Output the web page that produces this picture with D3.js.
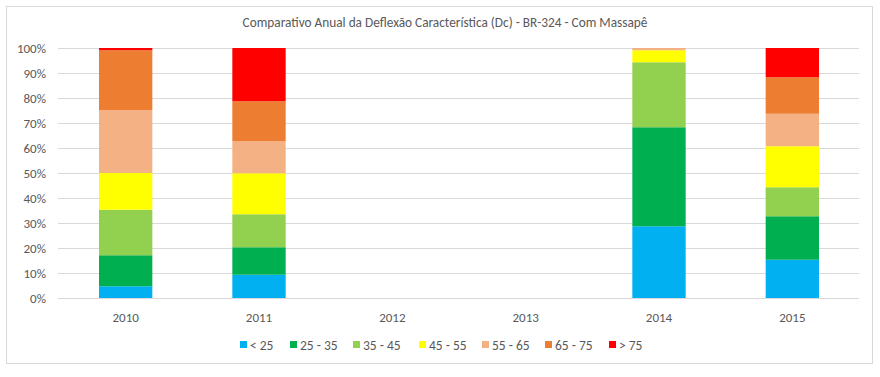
<!DOCTYPE html>
<html>
<head>
<meta charset="utf-8">
<script src="https://cdn.jsdelivr.net/npm/d3@7"></script>
<style>
  body { margin: 0; background: #fff; }
  text { font-family: Calibri, Carlito, "Open Sans", sans-serif; }
</style>
</head>
<body>
<div id="chart"></div>
<script>
const years = ["2010", "2011", "2012", "2013", "2014", "2015"];
const classes = ["< 25", "25 - 35", "35 - 45", "45 - 55", "55 - 65", "65 - 75", "> 75"];
const colors = ["#00B0F0", "#00B050", "#92D050", "#FFFF00", "#F4B183", "#ED7D31", "#FF0000"];

// share (%) of each class per year, order follows classes
const lt25   = [4.7, 9.3, 0, 0, 28.7, 15.3];
const c25_35 = [12.4, 11.0, 0, 0, 39.6, 17.4];
const c35_45 = [18.2, 13.2, 0, 0, 26.0, 11.6];
const c45_55 = [14.7, 16.4, 0, 0, 4.8, 16.4];
const c55_65 = [25.1, 12.8, 0, 0, 0.9, 13.0];
const c65_75 = [24.0, 16.0, 0, 0, 0, 14.6];
const gt75   = [0.9, 21.3, 0, 0, 0, 11.7];
const yTicks = [0, 10, 20, 30, 40, 50, 60, 70, 80, 90, 100];

const width = 880, height = 377;
const margin = { top: 48, right: 21, bottom: 79, left: 59 };

const svg = d3.select("#chart").append("svg")
    .attr("width", width)
    .attr("height", height);

// chart frame
svg.append("rect")
    .attr("x", 6.5).attr("y", 6.5)
    .attr("width", 866).attr("height", 357)
    .attr("fill", "#fff")
    .attr("stroke", "#D9D9D9");

svg.append("text")
    .attr("x", 445).attr("y", 27)
    .attr("text-anchor", "middle")
    .attr("font-size", 13.3)
    .attr("fill", "#595959")
    .text("Comparativo Anual da Deflexão Característica (Dc) - BR-324 - Com Massapê");

const series = [lt25, c25_35, c35_45, c45_55, c55_65, c65_75, gt75];
const table = years.map((y, i) => {
    const row = { year: y };
    classes.forEach((c, k) => { row[c] = series[k][i]; });
    return row;
});
const stacked = d3.stack().keys(classes)(table);

const x = d3.scaleBand()
    .domain(years)
    .range([margin.left, width - margin.right])
    .paddingInner(0.6)
    .paddingOuter(0.3);

const y = d3.scaleLinear()
    .domain([0, 100])
    .range([height - margin.bottom, margin.top]);

// gridlines
svg.append("g")
    .selectAll("line")
    .data(yTicks)
    .join("line")
    .attr("x1", margin.left - 1).attr("x2", width - margin.right)
    .attr("y1", d => Math.round(y(d)) + 0.5)
    .attr("y2", d => Math.round(y(d)) + 0.5)
    .attr("stroke", "#D9D9D9");

// y labels
svg.append("g")
    .selectAll("text")
    .data(yTicks)
    .join("text")
    .attr("x", 46)
    .attr("y", d => y(d) + 4.5)
    .attr("text-anchor", "end")
    .attr("font-size", 13)
    .attr("fill", "#595959")
    .text(d => d + "%");

// bars
svg.append("g")
    .selectAll("g")
    .data(stacked)
    .join("g")
    .attr("fill", (d, i) => colors[i])
    .selectAll("rect")
    .data(d => d)
    .join("rect")
    .attr("x", d => x(d.data.year))
    .attr("y", d => y(d[1]))
    .attr("width", x.bandwidth())
    .attr("height", d => y(d[0]) - y(d[1]));

// x labels
svg.append("g")
    .selectAll("text")
    .data(years)
    .join("text")
    .attr("x", d => x(d) + x.bandwidth() / 2)
    .attr("y", 322)
    .attr("text-anchor", "middle")
    .attr("font-size", 13)
    .attr("fill", "#595959")
    .text(d => d);

// legend
const legendX = [240, 290, 353, 419, 482, 545, 609];
const legend = svg.append("g")
    .selectAll("g")
    .data(classes)
    .join("g")
    .attr("transform", (d, i) => `translate(${legendX[i]},345)`);

legend.append("rect")
    .attr("x", 0).attr("y", -4)
    .attr("width", 7).attr("height", 7)
    .attr("fill", (d, i) => colors[i]);

legend.append("text")
    .attr("x", 10).attr("y", 4.5)
    .attr("font-size", 13.5)
    .attr("fill", "#595959")
    .text(d => d);
</script>
</body>
</html>
